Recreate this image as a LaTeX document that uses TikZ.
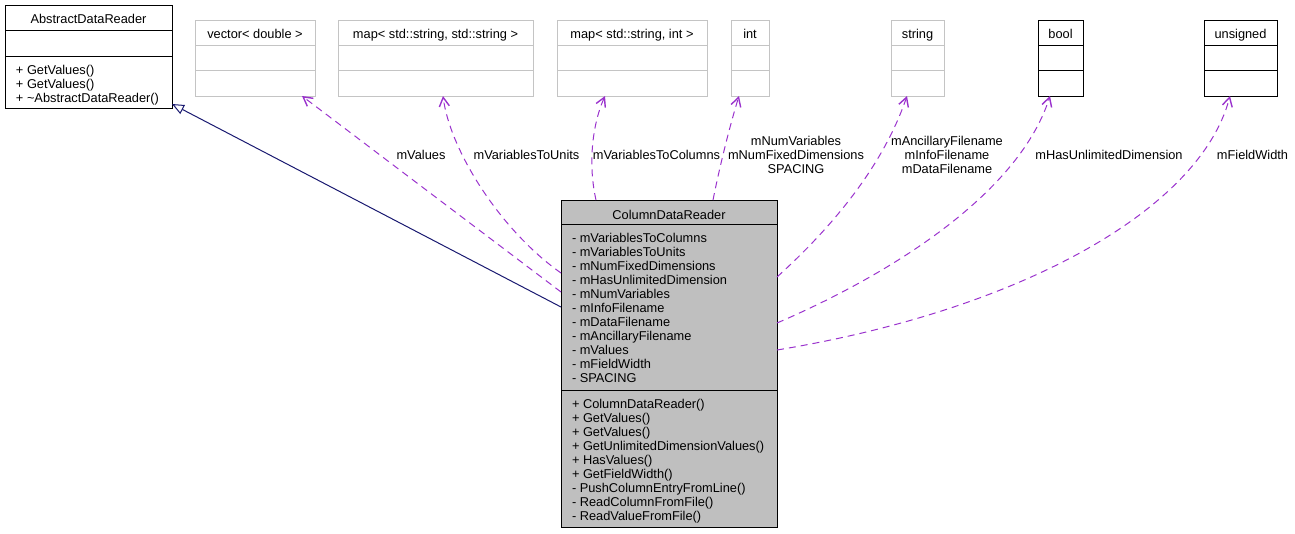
\documentclass[tikz,border=0pt]{standalone}
\usepackage{fontspec}
\setmainfont{Liberation Sans}
\usetikzlibrary{arrows.meta}
\definecolor{edgepurple}{HTML}{9A32CD}
\definecolor{inhnavy}{HTML}{191970}
\definecolor{boxgray}{HTML}{BFBFBF}
\definecolor{lightborder}{HTML}{C4C4C4}
\newcommand\umlbox[6]{%
  \node[#6, anchor=north west, minimum width={#4-#2}, minimum height={#5-#3},
        inner sep=0pt, outer sep=0pt] (#1) at (#2,#3) {};}
\begin{document}
\begin{tikzpicture}[x=1pt,y=-1pt,
  txt/.style={font=\fontsize{12.8}{14}\selectfont, inner sep=0pt, outer sep=0pt},
  lightbox/.style={draw=lightborder, line width=1pt},
  darkbox/.style={draw=black, line width=1pt},
  mainbox/.style={draw=black, line width=1pt, fill=boxgray},
  useedge/.style={draw=edgepurple, line width=1pt, dash pattern=on 7pt off 5pt,
     -{Straight Barb[length=9pt,width=10pt,line width=1.4pt]}},
  inhedge/.style={draw=inhnavy, line width=1pt,
     -{Triangle[open,length=12pt,width=10pt,fill=white]}},
  lbl/.style={txt, align=center, anchor=north}
]
\useasboundingbox (0,0) rectangle (1295,533);

% ---- boxes ----
\umlbox{abs}{5}{5}{172}{108}{darkbox}
\draw[darkbox] (abs.west |- 0,30) -- (abs.east |- 0,30);
\draw[darkbox] (abs.west |- 0,56) -- (abs.east |- 0,56);
\node[txt, anchor=base] (absT) at (88.5,23.5) {AbstractDataReader};
\node[txt, anchor=north west, align=left] (absM) at (16,65)
  {+ GetValues()\\+ GetValues()\\+ \textasciitilde AbstractDataReader()};

\umlbox{vec}{195}{20}{315}{96}{lightbox}
\umlbox{mss}{338}{20}{533}{96}{lightbox}
\umlbox{msi}{557}{20}{707}{96}{lightbox}
\umlbox{int}{731}{20}{769}{96}{lightbox}
\umlbox{str}{891}{20}{944}{96}{lightbox}
\umlbox{bool}{1038}{20}{1083}{96}{darkbox}
\umlbox{uns}{1204}{20}{1277}{96}{darkbox}
\foreach \b/\s in {vec/lightbox,mss/lightbox,msi/lightbox,int/lightbox,str/lightbox,bool/darkbox,uns/darkbox}{
  \draw[\s] (\b.west |- 0,45) -- (\b.east |- 0,45);
  \draw[\s] (\b.west |- 0,70) -- (\b.east |- 0,70);
}
\node[txt, anchor=base] (vecT) at (255,38) {vector< double >};
\node[txt, anchor=base] (mssT) at (435.5,38) {map< std::string, std::string >};
\node[txt, anchor=base] (msiT) at (632,38) {map< std::string, int >};
\node[txt, anchor=base] (intT) at (750,38) {int};
\node[txt, anchor=base] (strT) at (917.5,38) {string};
\node[txt, anchor=base] (boolT) at (1060.5,38) {bool};
\node[txt, anchor=base] (unsT) at (1240.5,38) {unsigned};

\umlbox{main}{561}{200}{777}{527}{mainbox}
\draw[darkbox] (main.west |- 0,224) -- (main.east |- 0,224);
\draw[darkbox] (main.west |- 0,390) -- (main.east |- 0,390);
\node[txt, anchor=base] (mainT) at (669,219) {ColumnDataReader};
\node[txt, anchor=north west, align=left] (mainA) at (572,233.7)
  {- mVariablesToColumns\\- mVariablesToUnits\\- mNumFixedDimensions\\- mHasUnlimitedDimension\\- mNumVariables\\- mInfoFilename\\- mDataFilename\\- mAncillaryFilename\\- mValues\\- mFieldWidth\\- SPACING};
\node[txt, anchor=north west, align=left] (mainM) at (572,399.7)
  {+ ColumnDataReader()\\+ GetValues()\\+ GetValues()\\+ GetUnlimitedDimensionValues()\\+ HasValues()\\+ GetFieldWidth()\\- PushColumnEntryFromLine()\\- ReadColumnFromFile()\\- ReadValueFromFile()};

% ---- connectors ----
\draw[inhedge] (main.west |- 0,307) -- ([yshift=4pt]abs.south east);
\draw[useedge] (main.west |- 0,292) -- (vec.south -| 302,0);
\draw[useedge] (main.west |- 0,273) .. controls (500,230) and (450,150) .. (mss.south -| 443,0);
\draw[useedge] (main.north -| 596,0) .. controls (588,165) and (592,125) .. (msi.south -| 605,0);
\draw[useedge] (main.north -| 713,0) .. controls (720,165) and (730,125) .. (int.south -| 739,0);
\draw[useedge] (main.east |- 0,277) .. controls (840,220) and (885,160) .. (str.south -| 907,0);
\draw[useedge] (main.east |- 0,323) .. controls (900,270) and (1020,190) .. (bool.south -| 1050,0);
\draw[useedge] (main.east |- 0,350) .. controls (1020,310) and (1200,210) .. (uns.south -| 1230,0);

% ---- labels ----
\node[lbl] (l1) at (421,150.7) {mValues};
\node[lbl] (l2) at (526.5,150.7) {mVariablesToUnits};
\node[lbl] (l3) at (656.5,150.7) {mVariablesToColumns};
\node[lbl] (l4) at (796,136.7) {mNumVariables\\mNumFixedDimensions\\SPACING};
\node[lbl] (l5) at (947,136.7) {mAncillaryFilename\\mInfoFilename\\mDataFilename};
\node[lbl] (l6) at (1109,150.7) {mHasUnlimitedDimension};
\node[lbl] (l7) at (1252.5,150.7) {mFieldWidth};
\end{tikzpicture}
\end{document}
